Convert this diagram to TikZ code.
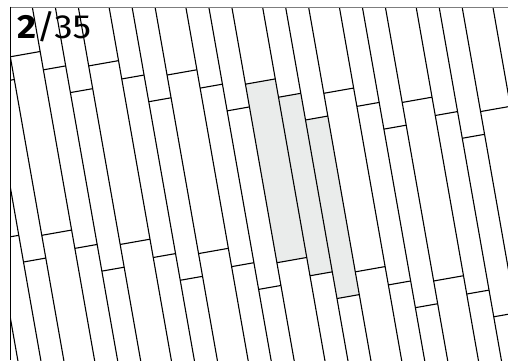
\documentclass[tikz,border=0pt]{standalone}
\usepackage{fontspec}
\setmainfont{Fira Sans}
\definecolor{plankgrey}{RGB}{234,236,235}
\definecolor{framegrey}{RGB}{125,125,125}
\begin{document}
\begin{tikzpicture}[x=1pt,y=-1pt,
  plankline/.style={line width=1.1pt,draw=black},
  greyplank/.style={fill=plankgrey},
  topframe/.style={line width=1.6pt,draw=framegrey},
  leftframe/.style={line width=1.1pt,draw=black},
  counter/.style={inner sep=0pt,anchor=base west,xscale=1.1,font=\fontsize{33.5}{40}\selectfont}]
\useasboundingbox (0,0) rectangle (508,360);
\begin{scope}
  \clip (10.5,7.3) rectangle (509,361);
  \begin{scope}[x={(0.9848pt,0.1736pt)}, y={(0.1736pt,-0.9848pt)}]
    % highlighted planks
    \fill[greyplank] (227.1,125.5) -- (257.4,125.5) -- (257.4,306.8) -- (227.1,306.8) -- cycle;
    \fill[greyplank] (257.4,144.1) -- (280.05,144.1) -- (280.05,325.4) -- (257.4,325.4) -- cycle;
    \fill[greyplank] (280.05,171.2) -- (302.7,171.2) -- (302.7,352.5) -- (280.05,352.5) -- cycle;
    \foreach \k in {-1,0,...,6}{
      \pgfmathsetmacro{\va}{0.3+75.6*\k}
      \pgfmathsetmacro{\vb}{\va+30.3}
      \pgfmathsetmacro{\vc}{\va+52.95}
      \pgfmathsetmacro{\vd}{\va+75.6}
      \draw[plankline] (\va,-30) -- (\va,480);
      \draw[plankline] (\vb,-30) -- (\vb,480);
      \draw[plankline] (\vc,-30) -- (\vc,480);
      \foreach \j in {-1,0,1,2}{
        \pgfmathsetmacro{\ua}{57.7+22.6*\k+181.3*\j}
        \pgfmathsetmacro{\ub}{76.3+22.6*\k+181.3*\j}
        \pgfmathsetmacro{\uc}{103.4+22.6*\k+181.3*\j}
        \draw[plankline] (\va,\ua) -- (\vb,\ua);
        \draw[plankline] (\vb,\ub) -- (\vc,\ub);
        \draw[plankline] (\vc,\uc) -- (\vd,\uc);
      }
    }
  \end{scope}
\end{scope}
\draw[topframe] (10.5,7.3) -- (508,7.3);
\draw[leftframe] (10.5,6.5) -- (10.5,360);
\node[counter] (label) at (17,38.3) {\textbf{2}/35};
\end{tikzpicture}
\end{document}
